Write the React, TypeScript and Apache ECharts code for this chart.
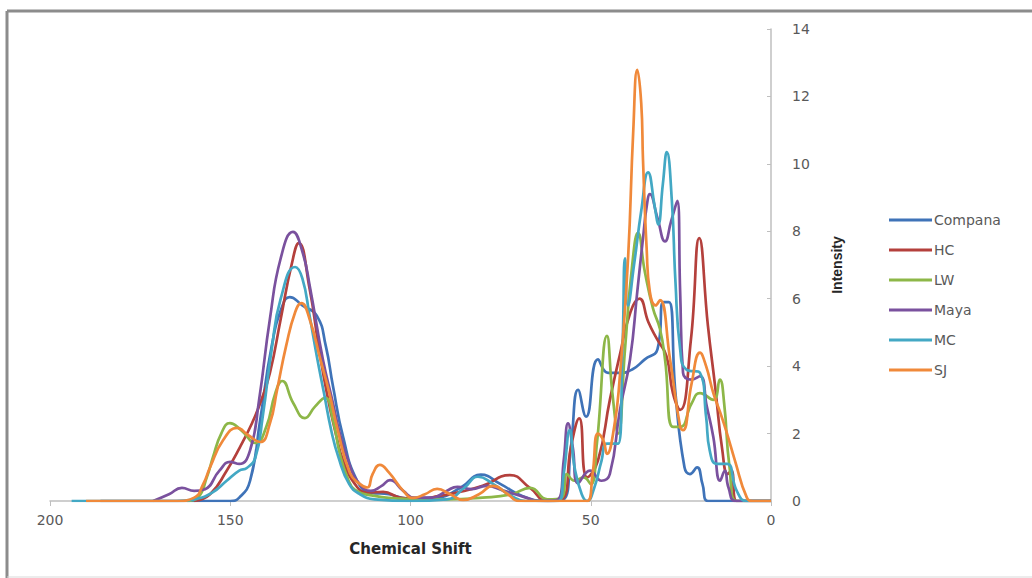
import React, { useEffect, useRef } from "react";
import * as echarts from "echarts";

// [chemical shift (ppm), intensity]
const compana: number[][] = [
  [186, 0], [150, 0], [147.5, 0.1], [144.5, 0.6], [141.7, 2.4], [138.5, 4.6], [135.5, 5.8], [133.5, 6.05],
  [130, 5.8], [126, 5.5], [123.5, 4.6], [121.5, 3.4], [118.7, 1.9], [114.8, 0.6], [111, 0.25], [106, 0.2],
  [101, 0.08], [93, 0.1], [86, 0.4], [80.5, 0.78], [75, 0.5], [69, 0.15], [62, 0], [57.5, 0.05], [55.5, 1.6],
  [53.5, 3.3], [51.3, 2.5], [48, 4.2], [45.2, 3.8], [42, 3.8], [38.5, 3.9], [35, 4.2], [31.5, 4.5],
  [29.8, 5.9], [28.3, 5.9], [26.5, 3.2], [24, 1.0], [22.5, 0.8], [20.5, 1.0], [19, 0.5], [17.5, 0], [0, 0],
];

const hc: number[][] = [
  [160, 0], [155.6, 0.2], [151, 0.9], [147.3, 1.6], [144, 2.3], [141.7, 2.9], [139, 3.8], [136, 5.4],
  [133, 7.0], [131, 7.65], [128, 6.3], [125.5, 4.6], [123.2, 3.2], [120.5, 1.9], [118.7, 1.2], [115.4, 0.5],
  [112, 0.25], [107.6, 0.27], [103, 0.1], [98, 0.05], [92, 0.15], [87, 0.25], [80, 0.45], [72.4, 0.77],
  [67, 0.4], [62, 0], [58, 0.05], [55.5, 1.6], [53.2, 2.45], [51, 0.7], [48, 1.2], [44.7, 3.0], [42, 4.3],
  [39, 5.6], [36.5, 6.0], [34, 5.3], [31.6, 4.8], [29, 4.3], [27.2, 3.2], [25.2, 2.7], [22.2, 4.8],
  [19.9, 7.8], [17.5, 5.2], [15.5, 3.4], [13.5, 1.5], [12, 0.8], [11, 0.9], [9.5, 0], [0, 0],
];

const lw: number[][] = [
  [162, 0], [159, 0.1], [156.5, 0.7], [154.8, 1.3], [152.5, 2.0], [150.1, 2.31], [147, 2.1], [143, 1.72],
  [140, 2.2], [137.5, 3.2], [135.6, 3.56], [132.5, 2.9], [129.3, 2.46], [126.5, 2.8], [123.7, 3.06],
  [121.5, 2.4], [119.6, 1.4], [117.5, 0.7], [115.4, 0.33], [110, 0.15], [104, 0.08], [98, 0.05], [90, 0.05],
  [80, 0.1], [72, 0.2], [66.8, 0.39], [62, 0.05], [58, 0.1], [56.6, 0.8], [54.5, 0.6], [52, 0.7], [50, 0.5],
  [48.3, 1.7], [45.5, 4.9], [44, 3.2], [42.4, 2.0], [40.5, 4.5], [38.5, 7.0], [36.9, 7.95], [35, 6.8],
  [32.7, 5.7], [30.8, 5.1], [29.4, 4.2], [27.2, 2.2], [25.2, 2.2], [22, 2.9], [19.7, 3.2], [16, 3.0],
  [14.2, 3.6], [13, 2.9], [11.5, 1.0], [9.5, 0], [0, 0],
];

const maya: number[][] = [
  [171.4, 0], [167, 0.2], [163.4, 0.39], [160, 0.3], [157, 0.35], [153, 0.9], [150, 1.16], [147.5, 1.1],
  [144.5, 1.5], [142, 3.0], [139, 5.4], [136, 7.2], [132.6, 7.98], [130, 7.4], [127.9, 6.35], [124.3, 4.2],
  [121.5, 2.9], [119.6, 2.0], [117, 1.1], [114.8, 0.6], [111, 0.3], [108, 0.45], [105.7, 0.62], [102, 0.3],
  [99, 0.1], [94, 0.1], [90, 0.3], [87, 0.42], [83, 0.35], [79, 0.45], [74, 0.3], [68, 0.1], [64, 0],
  [59, 0.05], [57.5, 1.2], [56.3, 2.3], [55, 1.6], [53.5, 0.53], [50.2, 0.9], [47, 0.6], [44.7, 0.8],
  [41.9, 2.7], [39.1, 4.2], [37.1, 6.2], [35.5, 7.8], [34.4, 8.8], [33.6, 9.1], [31.5, 8.4], [29.4, 7.7],
  [27.7, 8.3], [26, 8.9], [25.2, 6.2], [24.4, 3.8], [22, 3.6], [19.7, 3.7], [17.8, 2.8], [16, 1.9],
  [14.1, 0.6], [12.8, 0.9], [11.8, 0.4], [9.7, 0], [0, 0],
];

const mc: number[][] = [
  [194, 0], [165, 0], [160, 0.05], [155, 0.25], [151, 0.6], [147.5, 0.9], [145.4, 0.98], [143, 1.3],
  [141, 2.5], [138.5, 4.5], [136, 6.0], [132, 6.94], [130, 6.6], [128, 5.5], [126, 4.3], [124, 3.2],
  [122, 2.1], [120, 1.3], [117, 0.5], [114, 0.2], [110, 0.05], [100, 0], [90, 0.05], [85, 0.4],
  [81.3, 0.72], [77, 0.5], [72, 0.15], [68, 0], [59, 0], [57.5, 0.8], [55.8, 2.1], [54.5, 1.0],
  [52.5, 0.2], [51, 0], [49, 0.4], [47, 1.2], [45.5, 1.7], [42.4, 1.7], [41.2, 4.5], [40.5, 7.2],
  [39.7, 5.8], [38, 7.0], [36, 8.6], [34.1, 9.75], [32.2, 8.7], [31.3, 8.2], [30, 9.4], [28.9, 10.35],
  [27.5, 8.9], [26.5, 6.5], [25.2, 4.5], [23.5, 3.9], [19.7, 3.8], [18, 2.5], [17, 1.5], [15, 1.1],
  [12.2, 1.1], [9.5, 0.3], [6.7, 0], [0, 0],
];

const sj: number[][] = [
  [190, 0], [165, 0], [160, 0.1], [157.5, 0.5], [155.6, 1.0], [152, 1.8], [148.1, 2.17], [145, 1.95],
  [141.7, 1.75], [139, 2.3], [137, 3.3], [134.5, 4.6], [132, 5.6], [130.3, 5.87], [128, 5.4], [125, 4.2],
  [122.5, 3.2], [120.4, 2.2], [116.8, 0.83], [114, 0.5], [112, 0.4], [110.5, 0.8], [108.5, 1.07],
  [106, 0.85], [102, 0.3], [99.3, 0.09], [96, 0.2], [92.6, 0.36], [89, 0.2], [85.4, 0.03], [81, 0.2],
  [77.1, 0.45], [73, 0.2], [70, 0], [51, 0], [49.5, 0.8], [48, 2.0], [46.5, 1.8], [45.5, 1.4], [43.5, 2.2],
  [42, 3.6], [39.7, 7.1], [38.2, 11.0], [37.1, 12.79], [36, 11.8], [35.5, 10.1], [34.5, 7.5], [33.6, 6.2],
  [32, 5.8], [30.8, 5.96], [28, 4.2], [25.2, 2.2], [24.4, 2.1], [22, 3.5], [19.7, 4.4], [18, 4.0],
  [16, 3.2], [14, 2.6], [12.2, 2.0], [10, 1.2], [6.7, 0.1], [5, 0], [0, 0],
];

const seriesNames = ["Compana", "HC", "LW", "Maya", "MC", "SJ"];
const seriesData = [compana, hc, lw, maya, mc, sj];
const seriesColors = ["#3F73B8", "#B4403C", "#8DB748", "#7A519E", "#43A8C4", "#F0893A"];

const xMin = 0;
const xMax = 200;
const xStep = 50;
const yMin = 0;
const yMax = 14;
const yStep = 2;

export default function App() {
  const ref = useRef<HTMLDivElement>(null);

  useEffect(() => {
    if (!ref.current) return;
    const chart = echarts.init(ref.current, null, { renderer: "svg" });
    const labelFont = "DejaVu Sans";
    chart.setOption({
      animation: false,
      backgroundColor: "#ffffff",
      grid: { left: 50, right: 261, top: 29, bottom: 77, containLabel: false },
      xAxis: {
        type: "value",
        min: xMin,
        max: xMax,
        interval: xStep,
        inverse: true,
        name: "Chemical Shift",
        nameLocation: "middle",
        nameGap: 40,
        nameTextStyle: { fontFamily: labelFont, fontWeight: "bold", fontSize: 15, color: "#262626" },
        axisLine: { show: true, onZero: false, lineStyle: { color: "#BFBFBF", width: 1.5 } },
        axisTick: { show: true, length: 5, lineStyle: { color: "#BFBFBF" } },
        axisLabel: { fontFamily: labelFont, fontSize: 14, color: "#595959", margin: 12 },
        splitLine: { show: false },
      },
      yAxis: {
        type: "value",
        position: "right",
        min: yMin,
        max: yMax,
        interval: yStep,
        name: "Intensity",
        nameLocation: "middle",
        nameGap: 59,
        nameTextStyle: { fontFamily: "Liberation Sans", fontWeight: "bold", fontSize: 14, color: "#262626" },
        axisLine: { show: true, lineStyle: { color: "#BFBFBF", width: 1.5 } },
        axisTick: { show: true, inside: true, length: 4, lineStyle: { color: "#BFBFBF" } },
        axisLabel: { fontFamily: labelFont, fontSize: 14, color: "#595959", margin: 21 },
        splitLine: { show: false },
      },
      legend: {
        orient: "vertical",
        left: 884,
        top: 208,
        itemWidth: 43,
        itemHeight: 14,
        itemGap: 16,
        icon: "path://M0,6 L43,6 L43,8.8 L0,8.8 Z",
        textStyle: { fontFamily: labelFont, fontSize: 14, color: "#595959", padding: [0, 0, 0, -3] },
        data: seriesNames,
      },
      graphic: [
        { type: "line", shape: { x1: 7, y1: 11, x2: 1032, y2: 11 }, style: { stroke: "#8C8C8C", lineWidth: 3 } },
        { type: "line", shape: { x1: 7, y1: 11, x2: 7, y2: 578 }, style: { stroke: "#8C8C8C", lineWidth: 3 } },
        { type: "line", shape: { x1: 7, y1: 577, x2: 1032, y2: 577 }, style: { stroke: "#D9D9D9", lineWidth: 1 } },
      ],
      series: seriesNames.map((name, i) => ({
        name,
        type: "line",
        data: seriesData[i],
        smooth: 0.5,
        symbol: "none",
        showSymbol: false,
        color: seriesColors[i],
        lineStyle: { width: 2.7, color: seriesColors[i] },
      })),
    });
    return () => chart.dispose();
  }, []);

  return (
    <div
      ref={ref}
      style={{ position: "fixed", left: 0, top: 0, width: 1032, height: 578, background: "#fff" }}
    />
  );
}
